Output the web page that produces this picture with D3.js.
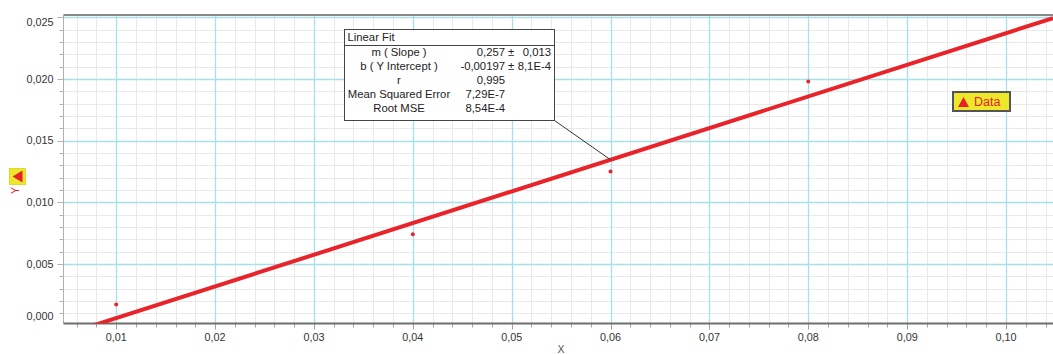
<!DOCTYPE html>
<meta charset="utf-8">
<style>
  body { margin: 0; background: #fff; }
  svg { display: block; font-family: "Liberation Sans", Arial, sans-serif; }
  .tick-label { fill: #333; font-size: 10.8px; }
  .fit-box text { fill: #222; font-size: 11.3px; }
</style>
<body>
<div id="chart"></div>
<script src="https://d3js.org/d3.v7.min.js"></script>
<script>

// chart values
var xTicks = [0.01, 0.02, 0.03, 0.04, 0.05, 0.06, 0.07, 0.08, 0.09, 0.10];
var yTicks = [0.000, 0.005, 0.010, 0.015, 0.020, 0.025];
var dataX = [0.01, 0.04, 0.06, 0.08];
var dataY = [0.0017, 0.0074, 0.0125, 0.0198];
var fitSlope = 0.257,
    fitIntercept = -0.00197;
var fitLabels = ["m ( Slope )", "b ( Y Intercept )", "r", "Mean Squared Error", "Root MSE"];
var fitValues = ["0,257", "-0,00197", "0,995", "7,29E-7", "8,54E-4"];
var fitErrors = ["0,013", "8,1E-4", "", "", ""];
var calloutX = 0.06;

var width = 1053,
    height = 354;

// plot area edges
var pLeft = 63.5, pTop = 15.5, pRight = 1053, pBottom = 323.5;

var x = d3.scaleLinear().domain([0.004671, 0.104753]).range([pLeft, pRight]);
var y = d3.scaleLinear().domain([0.00016, 0.02516]).range([pBottom, pTop]);

var comma = d3.formatLocale({decimal: ",", thousands: ".", grouping: [3], currency: ["", ""]});
var fx = comma.format(".2f"),
    fy = comma.format(".3f");

var svg = d3.select("#chart").append("svg")
    .attr("width", width)
    .attr("height", height);

svg.append("clipPath").attr("id", "plot")
  .append("rect")
    .attr("x", pLeft).attr("y", pTop)
    .attr("width", pRight - pLeft).attr("height", pBottom - pTop);

var grid = svg.append("g").attr("clip-path", "url(#plot)");

// minor grid (every 0.002 in x, 0.001 in y)
var xMinor = d3.range(0, 0.106, 0.002).filter(function(v) { return v >= x.domain()[0]; });
var yMinor = d3.range(0, 0.0255, 0.001);

grid.selectAll(".xminor").data(xMinor).enter().append("line")
    .attr("x1", function(d) { return Math.round(x(d)) + 0.5; })
    .attr("x2", function(d) { return Math.round(x(d)) + 0.5; })
    .attr("y1", pTop).attr("y2", pBottom)
    .attr("stroke", "#e9e9e9");

grid.selectAll(".yminor").data(yMinor).enter().append("line")
    .attr("y1", function(d) { return Math.round(y(d)) + 0.5; })
    .attr("y2", function(d) { return Math.round(y(d)) + 0.5; })
    .attr("x1", pLeft).attr("x2", pRight)
    .attr("stroke", "#e9e9e9");

// major grid
grid.selectAll(".xmajor").data(xTicks).enter().append("line")
    .attr("x1", function(d) { return Math.round(x(d)) + 0.5; })
    .attr("x2", function(d) { return Math.round(x(d)) + 0.5; })
    .attr("y1", pTop).attr("y2", pBottom)
    .attr("stroke", "#a6e0e8").attr("stroke-width", 1.3);

grid.selectAll(".ymajor").data(yTicks).enter().append("line")
    .attr("y1", function(d) { return Math.round(y(d)) + 0.5; })
    .attr("y2", function(d) { return Math.round(y(d)) + 0.5; })
    .attr("x1", pLeft).attr("x2", pRight)
    .attr("stroke", "#a6e0e8").attr("stroke-width", 1.3);

// axes frame
svg.append("line")
    .attr("x1", pLeft).attr("x2", pRight).attr("y1", pTop - 0.5).attr("y2", pTop - 0.5)
    .attr("stroke", "#8a8a8a").attr("stroke-width", 2);
svg.append("line")
    .attr("x1", pLeft).attr("x2", pLeft).attr("y1", pTop - 1).attr("y2", pBottom)
    .attr("stroke", "#b0b0b0");

// y ticks
svg.selectAll(".ytickminor").data(yMinor.filter(function(d) { return y(d) >= pTop - 1 && y(d) <= pBottom; }))
  .enter().append("line")
    .attr("y1", function(d) { return Math.round(y(d)) + 0.5; })
    .attr("y2", function(d) { return Math.round(y(d)) + 0.5; })
    .attr("x1", pLeft - 4).attr("x2", pLeft)
    .attr("stroke", "#b0b0b0");
svg.selectAll(".ytickmajor").data(yTicks.filter(function(d) { return y(d) >= pTop - 2 && y(d) <= pBottom; }))
  .enter().append("line")
    .attr("y1", function(d) { return Math.round(y(d)) + 0.5; })
    .attr("y2", function(d) { return Math.round(y(d)) + 0.5; })
    .attr("x1", pLeft - 6).attr("x2", pLeft)
    .attr("stroke", "#b0b0b0");

svg.selectAll(".ylabel").data(yTicks).enter().append("text")
    .attr("class", "tick-label")
    .attr("x", pLeft - 10)
    .attr("y", function(d) { return Math.max(pTop + 7, Math.min(pBottom - 7.5, y(d))); })
    .attr("dy", "0.35em")
    .attr("text-anchor", "end")
    .text(function(d) { return fy(d); });

// x ticks
svg.selectAll(".xtickminor").data(xMinor).enter().append("line")
    .attr("x1", function(d) { return Math.round(x(d)) + 0.5; })
    .attr("x2", function(d) { return Math.round(x(d)) + 0.5; })
    .attr("y1", pBottom).attr("y2", pBottom + 4)
    .attr("stroke", "#a0a0a0");
svg.selectAll(".xtickmajor").data(xTicks).enter().append("line")
    .attr("x1", function(d) { return Math.round(x(d)) + 0.5; })
    .attr("x2", function(d) { return Math.round(x(d)) + 0.5; })
    .attr("y1", pBottom).attr("y2", pBottom + 6)
    .attr("stroke", "#a0a0a0");

svg.append("line")
    .attr("x1", pLeft).attr("x2", pRight).attr("y1", pBottom).attr("y2", pBottom)
    .attr("stroke", "#6e6e6e").attr("stroke-width", 2);

svg.selectAll(".xlabel").data(xTicks).enter().append("text")
    .attr("class", "tick-label")
    .attr("x", function(d) { return x(d); })
    .attr("y", 337)
    .attr("dy", "0.35em")
    .attr("text-anchor", "middle")
    .text(function(d) { return fx(d); });

// axis titles
svg.append("text")
    .attr("x", 561).attr("y", 353)
    .attr("text-anchor", "middle")
    .attr("fill", "#555").attr("font-size", "10.5px")
    .text("X");

svg.append("rect")
    .attr("x", 9.5).attr("y", 168.5).attr("width", 16).attr("height", 16)
    .attr("fill", "#eee82a").attr("stroke", "#e0d830");
svg.append("path")
    .attr("d", "M12.5,176.5L22.5,170.5L22.5,182.5Z")
    .attr("fill", "#e8202a");
svg.append("text")
    .attr("transform", "translate(15.5,190.5) rotate(-90)")
    .attr("text-anchor", "middle")
    .attr("dy", "0.35em")
    .attr("fill", "#e8202a").attr("font-size", "10.5px")
    .text("Y");

// fit line
var plot = svg.append("g").attr("clip-path", "url(#plot)");
var xd = x.domain();
plot.append("line")
    .attr("x1", x(xd[0])).attr("y1", y(fitSlope * xd[0] + fitIntercept))
    .attr("x2", x(xd[1])).attr("y2", y(fitSlope * xd[1] + fitIntercept))
    .attr("stroke", "#e8242a").attr("stroke-width", 4);

// data points
plot.selectAll(".pt").data(dataX).enter().append("circle")
    .attr("cx", function(d) { return x(d); })
    .attr("cy", function(d, i) { return y(dataY[i]); })
    .attr("r", 2)
    .attr("fill", "#e8242a");

// fit info box
var bx = 344.5, by = 29.5, bw = 210, bh = 91;

svg.append("line")
    .attr("x1", bx + bw).attr("y1", by + bh)
    .attr("x2", x(calloutX)).attr("y2", y(fitSlope * calloutX + fitIntercept))
    .attr("stroke", "#333").attr("stroke-width", 1);

var box = svg.append("g").attr("class", "fit-box");
box.append("rect")
    .attr("x", bx).attr("y", by).attr("width", bw).attr("height", bh)
    .attr("fill", "#fff").attr("stroke", "#444");
box.append("line")
    .attr("x1", bx).attr("x2", bx + bw).attr("y1", 45.5).attr("y2", 45.5)
    .attr("stroke", "#444");
box.append("text")
    .attr("x", 347.5).attr("y", 37.5).attr("dy", "0.35em")
    .text("Linear Fit");

var rows = box.selectAll(".row").data(fitLabels).enter().append("g")
    .attr("transform", function(d, i) { return "translate(0," + (52.5 + i * 14) + ")"; });
rows.append("text")
    .attr("x", 399).attr("dy", "0.35em").attr("text-anchor", "middle")
    .text(function(d) { return d; });
rows.append("text")
    .attr("x", 505).attr("dy", "0.35em").attr("text-anchor", "end")
    .text(function(d, i) { return fitValues[i]; });
rows.append("text")
    .attr("x", 511).attr("dy", "0.35em").attr("text-anchor", "middle")
    .text(function(d, i) { return fitErrors[i] ? "±" : ""; });
rows.append("text")
    .attr("x", 551).attr("dy", "0.35em").attr("text-anchor", "end")
    .text(function(d, i) { return fitErrors[i]; });

// legend
var lg = svg.append("g");
lg.append("rect")
    .attr("x", 953).attr("y", 92).attr("width", 57).attr("height", 19)
    .attr("fill", "#eee82a").attr("stroke", "#555").attr("stroke-width", 2);
lg.append("path")
    .attr("d", "M958,107L963.5,97L969,107Z")
    .attr("fill", "#e8202a");
lg.append("text")
    .attr("x", 974).attr("y", 102).attr("dy", "0.35em")
    .attr("fill", "#e8202a").attr("font-size", "12.5px")
    .text("Data");

</script>
</body>
